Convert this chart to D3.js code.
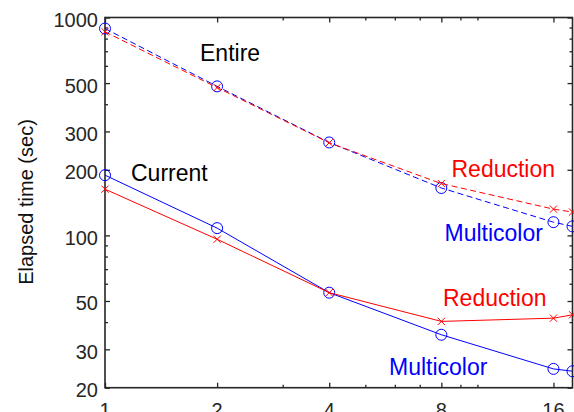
<!DOCTYPE html>
<html><head><meta charset="utf-8">
<script src="https://cdn.jsdelivr.net/npm/d3@7"></script>
<style>body{margin:0;background:#fff}svg{display:block}text{font-family:"Liberation Sans",Arial,Helvetica,sans-serif}</style>
</head><body>
<script>
const threads = [1, 2, 4, 8, 16, 18];
const entireMulticolor = [890, 483, 267, 165, 115, 110];
const entireReduction  = [860, 477, 266, 173, 132, 128];
const currentMulticolor = [189, 108, 54.6, 35, 24.4, 23.8];
const currentReduction  = [163, 96, 54.6, 40.3, 41.7, 43.2];
const xMajorTicks = [1, 2, 4, 8, 16];
const xMinorTicks = [3, 5, 6, 7, 9, 10];
const yMajorTicks = [20, 30, 50, 100, 200, 300, 500, 1000];
const yMinorTicks = [40, 60, 70, 80, 90, 400, 600, 700, 800, 900];
const yLabel = "Elapsed time (sec)";

const W = 574, H = 412;
const L = 105, R = 572.5, T = 17.5, B = 387.7;
const svg = d3.select("body").append("svg").attr("width", W).attr("height", H);
const x = d3.scaleLog().domain([1, 18]).range([L, R]);
const y = d3.scaleLog().domain([20, 1000]).range([B, T]);
const axisColor = "#262626";

// ticks (inward) on all four sides
function tickAxes(vals, len) {
  const gb = svg.append("g").attr("transform", `translate(0,${B})`)
    .call(d3.axisBottom(x).tickValues(vals).tickSize(-len).tickFormat(""));
  const gt = svg.append("g").attr("transform", `translate(0,${T})`)
    .call(d3.axisTop(x).tickValues(vals).tickSize(-len).tickFormat(""));
  const yv = len === 5 ? yMajorTicks : yMinorTicks;
  const gl = svg.append("g").attr("transform", `translate(${L},0)`)
    .call(d3.axisLeft(y).tickValues(yv).tickSize(-len).tickFormat(""));
  const gr = svg.append("g").attr("transform", `translate(${R},0)`)
    .call(d3.axisRight(y).tickValues(yv).tickSize(-len).tickFormat(""));
  [gb, gt, gl, gr].forEach(g => {
    g.select(".domain").remove();
    g.selectAll("line").attr("stroke", axisColor).attr("stroke-width", 1.3);
  });
}
tickAxes(xMajorTicks, 5);
tickAxes(xMinorTicks, 3);

svg.append("rect").attr("x", L).attr("y", T).attr("width", R - L).attr("height", B - T)
  .attr("fill", "none").attr("stroke", axisColor).attr("stroke-width", 1.6);

// tick labels
svg.append("g").selectAll("text").data(yMajorTicks).join("text")
  .attr("x", L - 7).attr("y", d => y(d) + 2.5).attr("dy", "0.35em")
  .attr("text-anchor", "end").attr("font-size", 20).attr("fill", axisColor)
  .text(d => d);
svg.append("g").selectAll("text").data(xMajorTicks).join("text")
  .attr("x", d => x(d)).attr("y", 416.5)
  .attr("text-anchor", "middle").attr("font-size", 20).attr("fill", axisColor)
  .text(d => d);

svg.append("text").attr("transform", `translate(33,202) rotate(-90)`)
  .attr("text-anchor", "middle").attr("font-size", 20).attr("fill", "#111")
  .text(yLabel);

// series
const series = [
  {v: entireMulticolor, c: "#0000ff", dash: "6,3.5", m: "o"},
  {v: entireReduction, c: "#ff0000", dash: "6,3.5", m: "x"},
  {v: currentMulticolor, c: "#0000ff", dash: null, m: "o"},
  {v: currentReduction, c: "#ff0000", dash: null, m: "x"}
];
const line = d3.line().x(d => x(d[0])).y(d => y(d[1]));
series.forEach(s => {
  const pts = threads.map((t, i) => [t, s.v[i]]);
  svg.append("path").datum(pts).attr("d", line).attr("fill", "none")
    .attr("stroke", s.c).attr("stroke-width", 1).attr("stroke-dasharray", s.dash);
  const g = svg.append("g");
  if (s.m === "o") {
    g.selectAll("circle").data(pts).join("circle")
      .attr("cx", d => x(d[0])).attr("cy", d => y(d[1])).attr("r", 5.5)
      .attr("fill", "none").attr("stroke", s.c).attr("stroke-width", 1);
  } else {
    const k = 3.6;
    g.selectAll("path").data(pts).join("path")
      .attr("d", d => { const cx = x(d[0]), cy = y(d[1]);
        return `M${cx-k},${cy-k}L${cx+k},${cy+k}M${cx-k},${cy+k}L${cx+k},${cy-k}`; })
      .attr("stroke", s.c).attr("stroke-width", 1).attr("fill", "none");
  }
});

// annotations
const notes = [
  {t: "Entire", x: 200, y: 61, c: "#000"},
  {t: "Current", x: 131, y: 180.5, c: "#000"},
  {t: "Reduction", x: 451.5, y: 177, c: "#ff0000"},
  {t: "Multicolor", x: 444.5, y: 241, c: "#0000ff"},
  {t: "Reduction", x: 443, y: 305.5, c: "#ff0000"},
  {t: "Multicolor", x: 389, y: 375, c: "#0000ff"}
];
svg.append("g").selectAll("text").data(notes).join("text")
  .attr("x", d => d.x).attr("y", d => d.y).attr("fill", d => d.c)
  .attr("font-size", 23).text(d => d.t);
</script>
</body></html>
